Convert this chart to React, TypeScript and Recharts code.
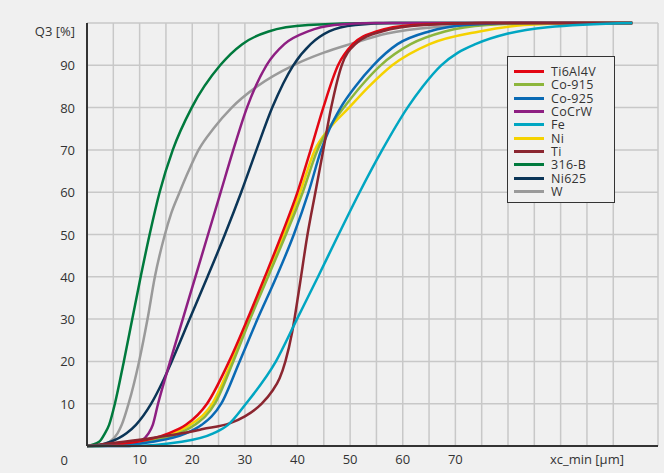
import React from "react";
import { LineChart, Line, XAxis, YAxis, CartesianGrid, Legend } from "recharts";

// x = xc_min [µm], q = Q3 [%]
const ti6al4vX = [0, 5, 9.5, 15.5, 18.8, 22.8, 27.0, 30.5, 33.8, 37.0, 40.0, 42.5, 44.9, 47.7, 50.5, 55, 62, 75, 103.6];
const ti6al4vQ = [0, 0.3, 1, 3, 5, 10, 20, 30, 40, 50, 60, 70, 80, 90, 95, 98, 99.5, 100, 100];

const co915X = [0, 6, 11, 17.5, 20.5, 24.3, 27.8, 31.0, 34.4, 37.8, 41.0, 43.8, 45.9, 48.8, 52.0, 55.8, 61.5, 68, 76, 88, 103.6];
const co915Q = [0, 0.2, 1, 3, 5, 10, 20, 30, 40, 50, 60, 70, 75, 80, 85, 90, 95, 98, 99.5, 100, 100];

const co925X = [0, 7, 12.5, 18.8, 21.8, 25.5, 29.0, 32.4, 36.0, 39.3, 42.1, 44.5, 46.1, 48.2, 51.0, 54.4, 59, 65, 72, 82, 103.6];
const co925Q = [0, 0.2, 1, 3, 5, 10, 20, 30, 40, 50, 60, 70, 75, 80, 85, 90, 95, 98, 99.5, 100, 100];

const cocrwX = [0, 8, 10, 11.7, 12.5, 13.5, 15.8, 18.2, 20.6, 23.0, 25.4, 27.8, 30.4, 34.1, 37.5, 42, 47, 55, 103.6];
const cocrwQ = [0, 0, 1, 3, 5, 10, 20, 30, 40, 50, 60, 70, 80, 90, 95, 98, 99.5, 100, 100];

const feX = [0, 8, 18, 24, 26.8, 30.2, 35.9, 39.9, 43.9, 47.8, 51.8, 56.1, 60.9, 63.8, 67.3, 70.5, 73.8, 80, 87.5, 103.6];
const feQ = [0, 0, 1, 3, 5, 10, 20, 30, 40, 50, 60, 70, 80, 85, 90, 93, 95, 97.5, 99, 100];

const niX = [0, 6, 10.5, 16.5, 19.6, 23.8, 27.5, 30.8, 34.1, 37.4, 40.5, 43.3, 46.0, 49.8, 53.6, 58.0, 65.1, 74.6, 83, 95, 103.6];
const niQ = [0, 0.2, 1, 3, 5, 10, 20, 30, 40, 50, 60, 70, 75, 80, 85, 90, 95, 98, 99.5, 100, 100];

const tiX = [0, 7, 13, 18, 22, 27.2, 30, 33.2, 35.2, 36.6, 37.7, 39.0, 40.3, 41.9, 43.4, 44.9, 46.4, 48.4, 51, 56, 64, 76, 103.6];
const tiQ = [0, 1, 2, 3, 4, 5.4, 7, 10, 13, 16, 20, 27, 37, 50, 60, 70, 80, 90, 95, 98, 99.5, 100, 100];

const b316X = [0, 2.3, 3.4, 4.2, 5.3, 7.0, 8.6, 10.2, 11.9, 13.8, 16.3, 19.9, 25.3, 29.5, 34.5, 42, 55, 103.6];
const b316Q = [0, 1, 3, 5, 10, 20, 30, 40, 50, 60, 70, 80, 90, 95, 98, 99.5, 100, 100];

const ni625X = [0, 1, 4.5, 7.5, 9.3, 12.2, 14.3, 16.1, 19.5, 22.9, 26.2, 29.3, 32.2, 35.2, 39.2, 42.5, 46, 51, 58, 103.6];
const ni625Q = [0, 0, 1, 3, 5, 10, 15, 20, 30, 40, 50, 60, 70, 80, 90, 95, 98, 99.5, 100, 100];

const wX = [0, 2, 4.3, 5.8, 6.6, 7.9, 9.9, 11.5, 12.9, 14.8, 16.0, 17.6, 19.3, 21.2, 24.0, 27.5, 32.3, 39.2, 45, 50, 57, 66, 85, 103.6];
const wQ = [0, 0.1, 1, 3, 5, 10, 20, 30, 40, 50, 55, 60, 65, 70, 75, 80, 85, 90, 93, 95, 97.5, 99, 100, 100];

const seriesNames = ["Ti6Al4V", "Co-915", "Co-925", "CoCrW", "Fe", "Ni", "Ti", "316-B", "Ni625", "W"];
const seriesColors = ["#e30613", "#8db63c", "#0a6ab4", "#8e1f82", "#00a6c2", "#f5d200", "#8b2630", "#007a3d", "#0b3557", "#9a9a9a"];
const seriesX = [ti6al4vX, co915X, co925X, cocrwX, feX, niX, tiX, b316X, ni625X, wX];
const seriesQ = [ti6al4vQ, co915Q, co925Q, cocrwQ, feQ, niQ, tiQ, b316Q, ni625Q, wQ];

// draw order (Ti and Fe on top near 100 %)
const drawOrder = [9, 8, 7, 3, 5, 1, 2, 0, 6, 4];

const xTicks = [0, 5, 10, 15, 20, 25, 30, 35, 40, 45, 50, 55, 60, 65, 70, 75, 80, 85, 90, 95, 100];
const xLabels = [10, 20, 30, 40, 50, 60, 70];
const xUnitTick = 95;
const yTicks = [0, 10, 20, 30, 40, 50, 60, 70, 80, 90, 100];

const textColor = "#333333";
const fontFamily = "'Open Sans', sans-serif";

const YTick = (props: any) => {
    const { x, y, payload } = props;
    const v = payload.value;
    let label = String(v);
    let dy = 0;
    let dx = 0;
    if (v === 100) {
        label = "Q3 [%]";
        dy = 8;
    }
    if (v === 0) {
        dy = 14;
        dx = -7;
    }
    return (
        <text
            x={x + dx}
            y={y + dy}
            textAnchor="end"
            dominantBaseline="central"
            fill={textColor}
            style={{ fontSize: 13, fontFamily }}
        >
            {label}
        </text>
    );
};

const formatX = (v: number) => {
    if (v === xUnitTick) return "xc_min [µm]";
    return xLabels.includes(v) ? String(v) : "";
};

const LegendBox = () => (
    <div
        style={{
            border: "1.5px solid #333",
            background: "#f0f0f0",
            boxSizing: "border-box",
            width: 108,
            height: 147,
            padding: "8px 0 0 6px",
            fontFamily,
        }}
    >
        {seriesNames.map((name, i) => (
            <div key={name} style={{ display: "flex", alignItems: "center", height: 13.33 }}>
                <div style={{ width: 30, height: 3, background: seriesColors[i], marginRight: 7 }} />
                <div
                    style={{
                        fontSize: 12.5,
                        color: textColor,
                        lineHeight: "13px",
                        height: 13,
                        letterSpacing: 0.3,
                        whiteSpace: "nowrap",
                    }}
                >
                    {name}
                </div>
            </div>
        ))}
    </div>
);

export default function App() {
    return (
        <div
            style={{
                position: "absolute",
                left: 0,
                top: 0,
                width: 664,
                height: 473,
                background: "#f0f0f0",
                fontFamily,
            }}
        >
            <LineChart width={664} height={473} margin={{ top: 23, right: 6, bottom: 0, left: 0 }}>
                <CartesianGrid stroke="#c8c8c8" strokeWidth={1.5} />
                <XAxis
                    type="number"
                    dataKey="x"
                    domain={[0, 108.5]}
                    ticks={xTicks}
                    interval={0}
                    tickFormatter={formatX}
                    tickLine={false}
                    tickSize={0}
                    tickMargin={9}
                    height={27}
                    axisLine={{ stroke: "#333", strokeWidth: 2 }}
                    tick={{ fill: textColor, fontSize: 13, fontFamily }}
                    allowDuplicatedCategory={false}
                />
                <YAxis
                    type="number"
                    domain={[0, 100]}
                    ticks={yTicks}
                    interval={0}
                    width={87}
                    tickLine={false}
                    tickSize={0}
                    tickMargin={12}
                    axisLine={{ stroke: "#333", strokeWidth: 2 }}
                    tick={<YTick />}
                />
                {drawOrder.map((i) => (
                    <Line
                        key={seriesNames[i]}
                        name={seriesNames[i]}
                        data={seriesX[i].map((x, k) => ({ x, q: seriesQ[i][k] }))}
                        dataKey="q"
                        type="monotone"
                        stroke={seriesColors[i]}
                        strokeWidth={2.5}
                        dot={false}
                        activeDot={false}
                        isAnimationActive={false}
                    />
                ))}
                <Legend
                    layout="vertical"
                    align="center"
                    verticalAlign="middle"
                    content={<LegendBox />}
                    wrapperStyle={{ left: 507, top: 56, width: 108, height: 147 }}
                />
            </LineChart>
        </div>
    );
}
